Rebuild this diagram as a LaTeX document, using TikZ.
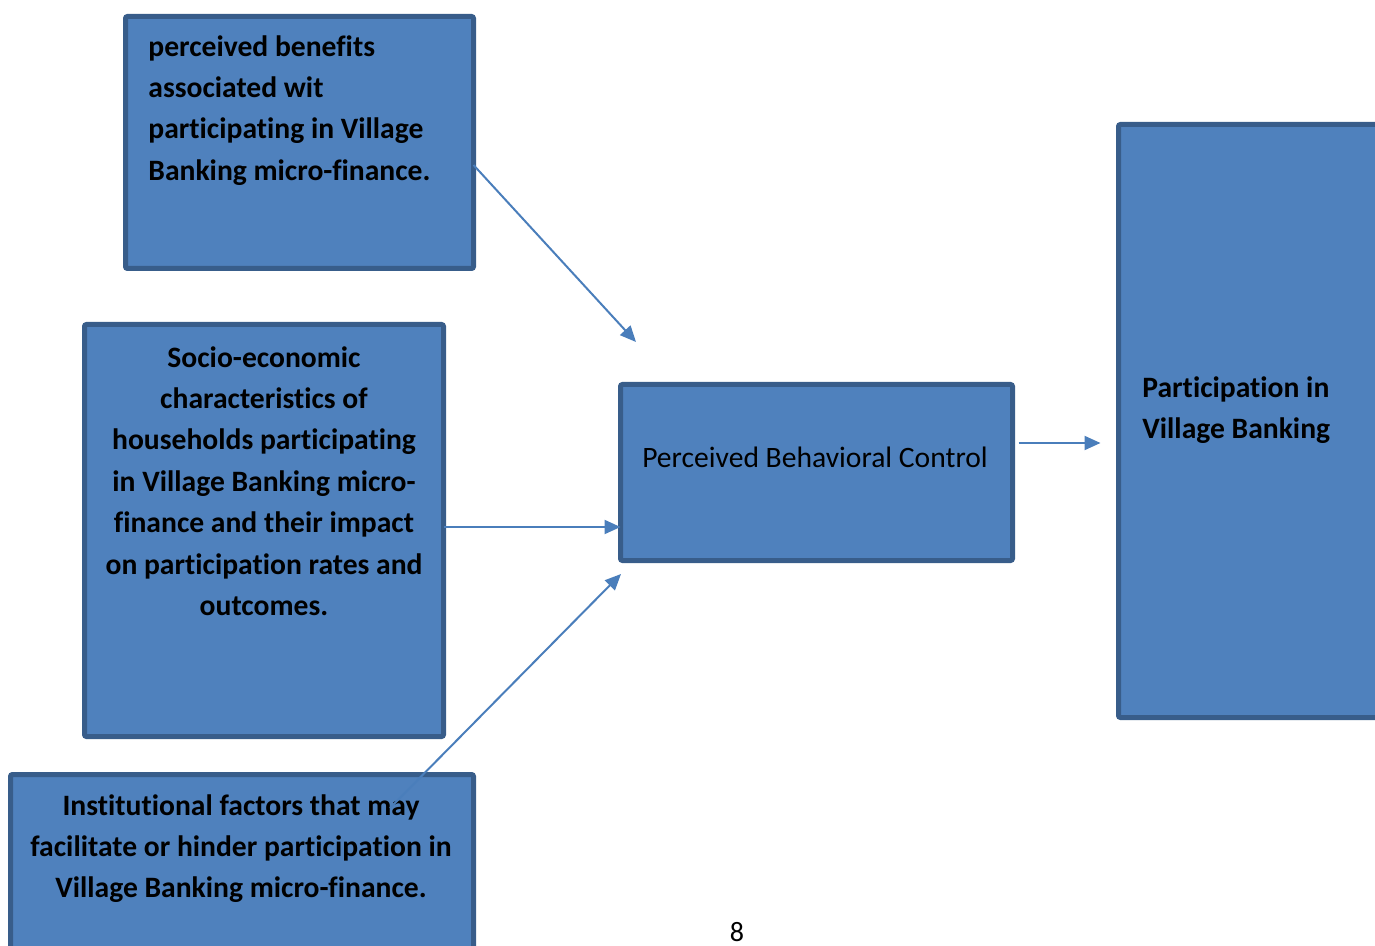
\documentclass[tikz,border=0pt]{standalone}
\usepackage{fontspec}
\setmainfont{Carlito}[Ligatures=NoCommon]
\usetikzlibrary{arrows.meta,positioning}
\definecolor{boxblue}{RGB}{79,129,189}
\definecolor{boxedge}{RGB}{56,93,138}
\definecolor{arrowblue}{RGB}{74,126,187}
\tikzset{
  bloque/.style={
    rounded corners=1pt,
    draw=boxedge,
    line width=2.5pt,
    fill=boxblue,
    inner sep=0pt,
    outer sep=0pt,
    anchor=north west
  },
  texto/.style={
    inner sep=0pt,
    font=\fontsize{14.8}{20.7}\selectfont\bfseries
  },
  arrow/.style={
    -{Triangle[length=8pt,width=7pt]},
    line width=1pt,
    arrowblue
  }
}

\begin{document}
\begin{tikzpicture}[x=0.5pt,y=-0.5pt]
\clip (0,0) rectangle (1375,946);
% cajas
\node[bloque,minimum width=174pt,minimum height=126pt] (beneficios) at (125.5,16.5) {};
\node[bloque,minimum width=179.5pt,minimum height=206pt] (socio) at (84.5,324.5) {};
\node[bloque,minimum width=231.5pt,minimum height=112.5pt] (institucional) at (10.5,774.5) {};
\node[bloque,minimum width=196pt,minimum height=88pt] (control) at (620.5,384.5) {};
\node[bloque,minimum width=166pt,minimum height=296.5pt] (participacion) at (1118.5,124.5) {};
% textos
\node[texto,align=left,anchor=north west] (tbeneficios) at (148,35)
  {perceived benefits\\associated wit\\participating in Village\\Banking micro-finance.};
\node[texto,align=center,anchor=north] (tsocio) at (264,346)
  {Socio-economic\\characteristics of\\households participating\\in Village Banking micro-\\finance and their impact\\on participation rates and\\outcomes.};
\node[texto,align=center,anchor=north] (tinstitucional) at (241,794)
  {Institutional factors that may\\facilitate or hinder participation in\\Village Banking micro-finance.};
\node[texto,font=\fontsize{14.8}{20.7}\selectfont,anchor=north] (tcontrol) at (815,447)
  {Perceived Behavioral Control};
\node[texto,align=left,anchor=north west] (tparticipacion) at (1142,376)
  {Participation in\\Village Banking};
\node[font=\fontsize{14}{16}\selectfont,anchor=base] (pagina) at (737,941) {8};
% flechas
\coordinate (fin1) at (636,342);
\coordinate (ini3) at (390,808);
\coordinate (fin3) at (621,574);
\draw[arrow] ([yshift=-11.25pt]beneficios.east) -- (fin1);
\draw[arrow] ([yshift=1.75pt]socio.east) -- ([yshift=1.75pt]socio.east -| control.west);
\draw[arrow] (ini3) -- (fin3);
\draw[arrow,shorten <=3pt,shorten >=9pt] ([yshift=14.75pt]control.east) -- ([yshift=14.75pt]control.east -| participacion.west);
\end{tikzpicture}
\end{document}
